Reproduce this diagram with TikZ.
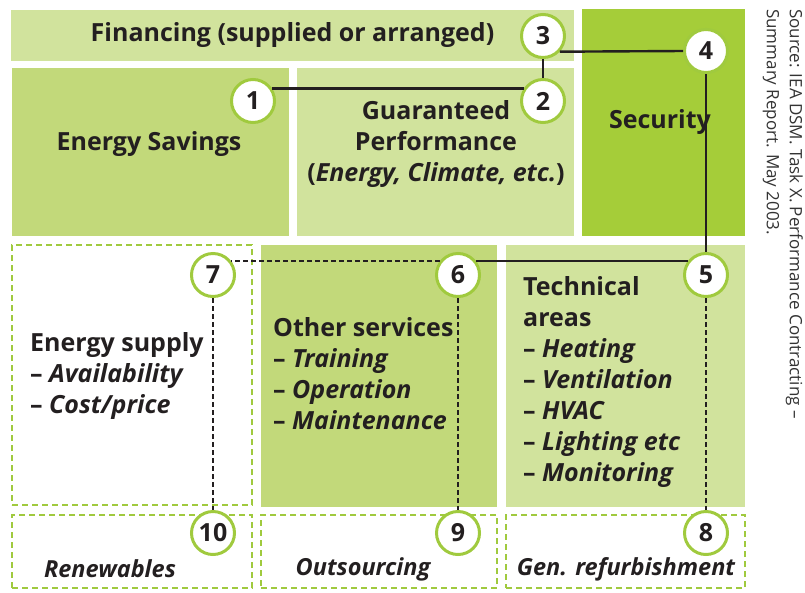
\documentclass[tikz,border=0pt]{standalone}
\usepackage{fontspec}
\setmainfont{Open Sans}
\definecolor{grnLight}{HTML}{D1E39D}
\definecolor{grnMid}{HTML}{C2D97A}
\definecolor{grnDark}{HTML}{A5CD39}
\definecolor{grnLine}{HTML}{A0CA3E}
\definecolor{txtDark}{HTML}{231F20}

\begin{document}
\begin{tikzpicture}[x=1pt, y=-1pt,
    area/.style={inner sep=0pt, outer sep=0pt},
    dashbox/.style={area, draw=grnLine, line width=2.5pt,
                    dash pattern=on 6pt off 4pt},
    lbl/.style={font=\fontsize{25}{31}\selectfont\bfseries,
                text=txtDark, inner sep=0pt},
    itlbl/.style={lbl, font=\fontsize{23.5}{31}\selectfont\bfseries\itshape},
    num/.style={circle, draw=grnLine, fill=white, line width=3pt,
                minimum size=43pt, inner sep=0pt, text=txtDark,
                font=\fontsize{25}{28}\selectfont\bfseries},
    link/.style={line width=2.4pt, txtDark},
    dlink/.style={line width=2.3pt, txtDark, dash pattern=on 5pt off 3pt},
]
\useasboundingbox (0,0) rectangle (805,592);

% --- top row ---
\node[area, fill=grnLight, minimum width=563pt, minimum height=51pt, lbl]
    (fin) at (292.5,35) {Financing (supplied or arranged)};
\node[area, fill=grnMid, minimum width=277pt, minimum height=168pt]
    (saving) at (150.5,152) {};
\node[area, fill=grnLight, minimum width=277pt, minimum height=168pt]
    (guar) at (435.5,152) {};
\node[area, fill=grnDark, minimum width=163pt, minimum height=227pt]
    (secur) at (663.5,122.5) {};

\node[lbl] (savingtxt) at (149,144) {Energy Savings};
\node[lbl, align=center] (guartxt) at (436,144)
    {Guaranteed\\Performance\\(\textit{Energy, Climate, etc.})};
\node[lbl] (securtxt) at (660,122) {Security};

% --- middle row ---
\node[dashbox, minimum width=240pt, minimum height=260pt]
    (supply) at (132,375) {};
\node[area, fill=grnMid, minimum width=236pt, minimum height=262pt]
    (other) at (379,376) {};
\node[area, fill=grnLight, minimum width=239pt, minimum height=262pt]
    (tech) at (625.5,376) {};

\node[lbl, align=left, anchor=west] (supplytxt) at (30,376)
    {Energy supply\\-- \textit{Availability}\\-- \textit{Cost/price}};
\node[lbl, align=left, anchor=west] (othertxt) at (273,374)
    {Other services\\-- \textit{Training}\\-- \textit{Operation}\\-- \textit{Maintenance}};
\node[lbl, align=left, anchor=west] (techtxt) at (523,382)
    {Technical\\areas\\-- \textit{Heating}\\-- \textit{Ventilation}\\-- \textit{HVAC}\\-- \textit{Lighting etc}\\-- \textit{Monitoring}};

% --- bottom row ---
\node[dashbox, minimum width=240pt, minimum height=73pt]
    (renew) at (132,551.5) {};
\node[dashbox, minimum width=236pt, minimum height=73pt]
    (outsrc) at (379,551.5) {};
\node[dashbox, minimum width=239pt, minimum height=73pt]
    (refurb) at (625.5,551.5) {};

\node[itlbl] (renewtxt) at (110,569) {Renewables};
\node[itlbl] (outsrctxt) at (363,569) {Outsourcing};
\node[itlbl] (refurbtxt) at (626,569) {Gen. refurbishment};

% numbered circles
\node[num] (c1) at (253,101) {1};
\node[num] (c2) at (543,101) {2};
\node[num] (c3) at (543,36) {3};
\node[num] (c4) at (706,51) {4};
\node[num] (c5) at (706,275) {5};
\node[num] (c6) at (458,275) {6};
\node[num] (c7) at (213,275) {7};
\node[num] (c8) at (706,533) {8};
\node[num] (c9) at (458,533) {9};
\node[num] (c10) at (213,533) {10};

% connectors
\draw[link] (c1.33) -- (c2.147);
\draw[link] (c2.north) -- (c3.south);
\draw[link] (c3.-43) -- (c4.west);
\draw[link] (c4.south) -- (c5.north);
\draw[link] (c5.143) -- (c6.37);
\draw[dlink] (c6.143) -- (c7.37);
\draw[dlink] (c7.south) -- (c10.north);
\draw[dlink] (c6.south) -- (c9.north);
\draw[dlink] (c5.south) -- (c8.north);

% source note
\node[rotate=-90, anchor=north west, align=left, inner sep=0pt,
      text=black!80, font=\fontsize{17}{23}\selectfont]
    (src) at (803,9)
    {Source: IEA DSM. Task X. Performance Contracting --\\Summary Report. May 2003.};

\end{tikzpicture}
\end{document}
